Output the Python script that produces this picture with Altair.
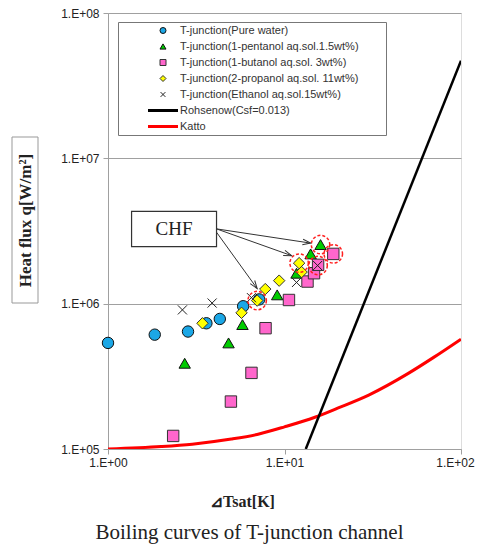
import math
import pandas as pd
import altair as alt

# ---------------- data ----------------
series_names = [
    "T-junction(Pure water)",
    "T-junction(1-pentanol aq.sol.1.5wt%)",
    "T-junction(1-butanol aq.sol. 3wt%)",
    "T-junction(2-propanol aq.sol. 11wt%)",
    "T-junction(Ethanol aq.sol.15wt%)",
    "Rohsenow(Csf=0.013)",
    "Katto",
]

water_dt = [1.0, 1.84, 2.84, 3.61, 4.30, 5.83, 7.19]
water_q = [5.37e5, 6.12e5, 6.43e5, 7.33e5, 7.85e5, 9.6e5, 1.07e6]

pentanol_dt = [2.72, 4.82, 5.78, 9.09, 11.7, 14.06, 16.0]
pentanol_q = [3.89e5, 5.37e5, 7.18e5, 1.15e6, 1.62e6, 2.20e6, 2.55e6]

butanol_dt = [2.34, 4.97, 6.50, 7.81, 10.6, 13.5, 14.7, 15.5, 18.9]
butanol_q = [1.23e5, 2.12e5, 3.34e5, 6.78e5, 1.06e6, 1.42e6, 1.62e6, 1.85e6, 2.20e6]

propanol_dt = [3.43, 5.71, 7.0, 7.78, 9.33, 12.5, 12.1]
propanol_q = [7.33e5, 8.65e5, 1.05e6, 1.26e6, 1.44e6, 1.65e6, 1.90e6]

ethanol_dt = [2.64, 3.89, 6.5, 11.7, 15.4]
ethanol_q = [9.06e5, 1.01e6, 1.1e6, 1.40e6, 1.83e6]

rohsenow_dt = [13.2, 100.0]
rohsenow_q = [1.0e5, 4.7e7]

katto_dt = [1, 2, 3, 5, 7, 10, 15, 20, 30, 50, 70, 100]
katto_q = [1.00e5, 1.04e5, 1.08e5, 1.17e5, 1.26e5, 1.42e5, 1.66e5, 1.91e5,
           2.35e5, 3.30e5, 4.27e5, 5.70e5]

# CHF points (dashed red circles)
chf_dt = [7.0, 12.1, 16.0, 18.9, 15.5]
chf_q = [1.05e6, 1.90e6, 2.55e6, 2.20e6, 1.83e6]

# CHF annotation: label box and arrows (data units)
chf_label = "CHF"
chf_box_dt = [1.36, 4.12]
chf_box_q = [2.47e6, 4.31e6]
arrow_dt0 = [4.12, 4.12, 4.12]
arrow_q0 = [3.27e6, 3.27e6, 3.10e6]
arrow_dt1 = [14.06, 10.97, 7.0]
arrow_q1 = [2.61e6, 2.14e6, 1.27e6]

x_ticks = [1, 10, 100]
y_ticks = [1e5, 1e6, 1e7, 1e8]
x_title = "⊿Tsat[K]"
y_title = "Heat flux q[W/m²]"
caption = "Boiling curves of T-junction channel"

# ---------------- styles ----------------
W, H = 353, 436
XDOM = [1, 100]
YDOM = [1e5, 1e8]
fills = ["#1BA7E6", "#00CC00", "#FF66CC", "#FFFF00", "transparent", "#000000", "#FF0000"]
strokes = ["#111111", "#111111", "#333333", "#333333", "#222222", "transparent", "transparent"]
xpath = "M-0.8,-0.8L0.8,0.8M0.8,-0.8L-0.8,0.8"
linepath = "M-5,-0.5L5,-0.5L5,0.5L-5,0.5Z"
shapes = ["circle", "triangle-up", "square", "diamond", xpath, linepath, linepath]
swidths = [1, 1, 1, 1, 1.3, 1, 1]

rows = []
for name, xs, qs in [
    (series_names[0], water_dt, water_q),
    (series_names[1], pentanol_dt, pentanol_q),
    (series_names[2], butanol_dt, butanol_q),
    (series_names[3], propanol_dt, propanol_q),
    (series_names[4], ethanol_dt, ethanol_q),
]:
    for a, b in zip(xs, qs):
        rows.append({"series": name, "dt": a, "q": b})
pts = pd.DataFrame(rows)

xscale = alt.Scale(type="log", domain=XDOM, nice=False)
yscale = alt.Scale(type="log", domain=YDOM, nice=False)
label_expr = "'1.E+0' + round(log(datum.value)/LN10)"

xaxis = alt.Axis(values=x_ticks, labelExpr=label_expr, grid=False,
                 domainColor="#A0A0A0", tickColor="#A0A0A0", tickSize=5,
                 labelFont="Liberation Sans", labelFontSize=12, labelColor="#222",
                 labelPadding=3, labelFlush=False, labelOverlap=False,
                 labelOffset={"condition": {"test": "datum.value >= 100", "value": -6},
                              "value": 0},
                 title=x_title, titleFont="Liberation Serif", titleFontWeight="bold",
                 titleFontSize=16, titleColor="#222", titleX=134, titleY=57,
                 titleAlign="center", titleBaseline="alphabetic")
yaxis = alt.Axis(values=y_ticks, labelExpr=label_expr, grid=True,
                 gridColor="#A0A0A0", gridWidth=1,
                 domainColor="#A0A0A0", tickColor="#A0A0A0", tickSize=5,
                 labelFont="Liberation Sans", labelFontSize=12, labelColor="#222",
                 labelPadding=4, labelFlush=False, labelOverlap=False,
                 title=y_title, titleFont="Liberation Serif", titleFontWeight="bold",
                 titleFontSize=17, titleColor="#222", titleX=-83, titleY=207,
                 titleAngle=270, titleAlign="center", titleBaseline="middle")

X = alt.X("dt:Q", scale=xscale, axis=xaxis)
Y = alt.Y("q:Q", scale=yscale, axis=yaxis)

katto = alt.Chart(pd.DataFrame({"dt": katto_dt, "q": katto_q})).mark_line(
    color="#FF0000", strokeWidth=3, clip=True, interpolate="monotone"
).encode(x=X, y=Y)

rohs = alt.Chart(pd.DataFrame({"dt": rohsenow_dt, "q": rohsenow_q})).mark_line(
    color="#000000", strokeWidth=2.5, clip=True
).encode(x=X, y=Y)

# blank (non-whitespace) padding so the legend frame is as wide as the original
pad_blank = "\u2800" * 3
legend = alt.Legend(
    title=None, orient="none", legendX=10, legendY=9, direction="vertical",
    padding=3, strokeColor="#777777", fillColor="white",
    labelFont="Liberation Sans", labelFontSize=11, labelColor="#333",
    labelLimit=500, labelExpr="datum.label + '" + pad_blank + "'",
    symbolSize=36, symbolOffset=36.5, labelOffset=11.5,
    rowPadding=4.0,
)
dom = series_names
points = alt.Chart(pts).mark_point(filled=True, opacity=1, size=130).encode(
    x=X, y=Y,
    fill=alt.Fill("series:N", scale=alt.Scale(domain=dom, range=fills), legend=legend),
    stroke=alt.Stroke("series:N", scale=alt.Scale(domain=dom, range=strokes), legend=legend),
    shape=alt.Shape("series:N", scale=alt.Scale(domain=dom, range=shapes), legend=legend),
    strokeWidth=alt.StrokeWidth("series:N", scale=alt.Scale(domain=dom, range=swidths), legend=legend),
    order=alt.Order("ord:Q"),
).transform_calculate(ord="indexof(" + str(dom) + ", datum.series)")

chf = alt.Chart(pd.DataFrame({"dt": chf_dt, "q": chf_q})).mark_point(
    shape="circle", filled=False, stroke="#FF2020", strokeWidth=1.5,
    strokeDash=[3, 2], size=340, opacity=1
).encode(x=X, y=Y)


def to_px(x, q):
    return W * math.log10(x) / 2.0, H * (1 - (math.log10(q) - 5) / 3.0)


angles = []
for a0, b0, a1, b1 in zip(arrow_dt0, arrow_q0, arrow_dt1, arrow_q1):
    p0, p1 = to_px(a0, b0), to_px(a1, b1)
    angles.append(90 + math.degrees(math.atan2(p1[1] - p0[1], p1[0] - p0[0])))

arr_df = pd.DataFrame({"dt": arrow_dt0, "q": arrow_q0, "dt2": arrow_dt1,
                       "q2": arrow_q1, "ang": angles})
arrows = alt.Chart(arr_df).mark_rule(color="#333333", strokeWidth=1).encode(
    x=X, y=Y, x2="dt2:Q", y2="q2:Q")
heads = alt.Chart(arr_df).mark_point(
    shape="M-0.55,1.6L0,0L0.55,1.6", filled=False, stroke="#333333",
    strokeWidth=1, size=100, opacity=1
).encode(x=alt.X("dt2:Q", scale=xscale, axis=xaxis),
         y=alt.Y("q2:Q", scale=yscale, axis=yaxis),
         angle=alt.Angle("ang:Q", scale=None))

box_df = pd.DataFrame({"dt": [chf_box_dt[0]], "dt2": [chf_box_dt[1]],
                       "q": [chf_box_q[0]], "q2": [chf_box_q[1]],
                       "tx": [math.sqrt(chf_box_dt[0] * chf_box_dt[1])],
                       "ty": [math.sqrt(chf_box_q[0] * chf_box_q[1])],
                       "label": [chf_label]})
box = alt.Chart(box_df).mark_rect(fill="white", stroke="#333333", strokeWidth=1.2).encode(
    x=X, y=Y, x2="dt2:Q", y2="q2:Q")
box_text = alt.Chart(box_df).mark_text(
    font="Liberation Serif", fontSize=19, color="#222", baseline="middle", align="center"
).encode(x=alt.X("tx:Q", scale=xscale, axis=xaxis),
         y=alt.Y("ty:Q", scale=yscale, axis=yaxis), text="label:N")

ytitle_box = alt.Chart(pd.DataFrame({"k": [0]})).mark_rect(
    fill="transparent", stroke="#999999", strokeWidth=1
).encode(x=alt.value(-96), x2=alt.value(-70), y=alt.value(124), y2=alt.value(290))

chart = alt.layer(
    katto, rohs, points, chf, arrows, heads, box, box_text, ytitle_box
).properties(
    width=W, height=H,
    autosize=alt.AutoSizeParams(type="none"),
    padding={"left": 100, "top": 5, "right": 15, "bottom": 96},
    title=alt.TitleParams(caption, orient="bottom", anchor="middle", frame="group",
                          font="Liberation Serif", fontSize=21, fontWeight="normal",
                          color="#222", dx=-35, offset=30, baseline="alphabetic"),
).configure_view(stroke=None).configure(background="white")

chart.save("out.html", embed_options={"renderer": "svg", "actions": False})
